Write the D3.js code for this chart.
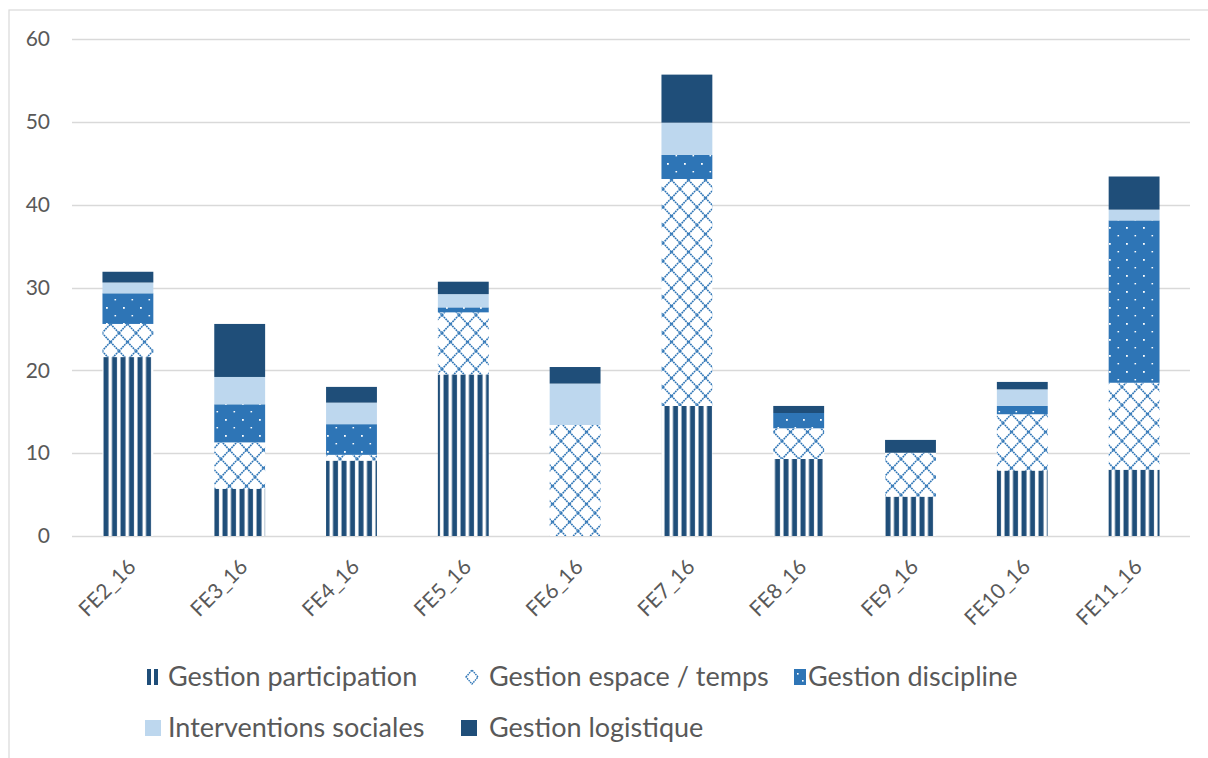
<!DOCTYPE html>
<html>
<head>
<meta charset="utf-8">
<script src="https://cdn.jsdelivr.net/npm/d3@7"></script>
<style>
  html, body { margin: 0; padding: 0; background: #fff; }
  svg { display: block; }
  text { font-family: Lato, "Open Sans", sans-serif; fill: #595959; }
</style>
</head>
<body>
<svg id="chart" width="1208" height="758"></svg>
<script>
const categories = ["FE2_16","FE3_16","FE4_16","FE5_16","FE6_16","FE7_16","FE8_16","FE9_16","FE10_16","FE11_16"];
const seriesNames = ["Gestion participation","Gestion espace / temps","Gestion discipline","Interventions sociales","Gestion logistique"];
const participation = [21.6, 5.7, 9.1, 19.5, 0, 15.7, 9.3, 4.75, 7.9, 8.0];
const espaceTemps   = [4.0, 5.6, 0.7, 7.5, 13.4, 27.4, 3.7, 5.3, 6.8, 10.5];
const discipline    = [3.7, 4.6, 3.7, 0.6, 0, 2.9, 1.85, 0, 1.0, 19.6];
const sociales      = [1.3, 3.3, 2.6, 1.6, 5.0, 3.9, 0, 0, 2.0, 1.3];
const logistique    = [1.3, 6.4, 1.9, 1.5, 2.0, 5.8, 0.85, 1.55, 0.9, 4.0];
const yTicks = [0, 10, 20, 30, 40, 50, 60];

const seriesValues = [participation, espaceTemps, discipline, sociales, logistique];
const keys = ["p","e","d","s","l"];
const table = categories.map((c, i) => {
  const o = { cat: c };
  keys.forEach((k, j) => o[k] = seriesValues[j][i]);
  return o;
});
const stacked = d3.stack().keys(keys)(table);

const svg = d3.select("#chart");
const W = 1208, H = 758;
const m = { left: 72, right: 18, top: 39, bottom: 222 };
const x = d3.scaleBand().domain(categories).range([m.left, W - m.right]).paddingInner(0.545).paddingOuter(0.2725);
const y = d3.scaleLinear().domain([0, 60]).range([H - m.bottom, m.top]);

// frame
svg.append("rect").attr("x", 9).attr("y", 10).attr("width", W + 10).attr("height", H + 10)
  .attr("fill", "none").attr("stroke", "#d9d9d9").attr("stroke-width", 1.2);

// patterns
const defs = svg.append("defs");
const dark = "#1f4e79", mid = "#2e75b6", light = "#bdd7ee";
const pP = defs.append("pattern").attr("id", "pat-p").attr("patternUnits", "userSpaceOnUse")
  .attr("width", 8.5).attr("height", 10);
pP.append("rect").attr("width", 8.5).attr("height", 10).attr("fill", "#fff");
pP.append("rect").attr("x", 1.5).attr("width", 5).attr("height", 10).attr("fill", dark);

const pE = defs.append("pattern").attr("id", "pat-e").attr("patternUnits", "userSpaceOnUse")
  .attr("width", 17).attr("height", 18);
pE.append("rect").attr("width", 17).attr("height", 18).attr("fill", "#fff");
pE.append("path").attr("d", "M0,9 L8.5,0 L17,9 L8.5,18 Z").attr("fill", "none")
  .attr("stroke", mid).attr("stroke-width", 1.6).attr("stroke-dasharray", "1.8,0.7");

const pD = defs.append("pattern").attr("id", "pat-d").attr("patternUnits", "userSpaceOnUse")
  .attr("width", 17).attr("height", 16);
pD.append("rect").attr("width", 17).attr("height", 16).attr("fill", mid);
pD.append("rect").attr("x", 4).attr("y", 3).attr("width", 1.8).attr("height", 1.8).attr("fill", "#fff");
pD.append("rect").attr("x", 12.5).attr("y", 11).attr("width", 1.6).attr("height", 1.4).attr("fill", "#fff");

const fills = { p: "url(#pat-p)", e: "url(#pat-e)", d: "url(#pat-d)", s: light, l: dark };

// gridlines
svg.append("g").selectAll("line").data(yTicks).join("line")
  .attr("x1", m.left).attr("x2", W - m.right)
  .attr("y1", d => Math.round(y(d)) + 0.5).attr("y2", d => Math.round(y(d)) + 0.5)
  .attr("stroke", "#d9d9d9").attr("stroke-width", 1.3);

// y axis labels
const yAxis = d3.axisLeft(y).tickValues(yTicks).tickSize(0).tickPadding(22);
const gy = svg.append("g").attr("transform", `translate(${m.left},0)`).call(yAxis);
gy.select(".domain").remove();
gy.selectAll("text").style("font-size", "21px").attr("fill", "#595959").style("font-family", "Lato, sans-serif");

// bars
svg.append("g").selectAll("g").data(stacked).join("g")
  .attr("fill", d => fills[d.key])
  .selectAll("rect").data(d => d).join("rect")
  .attr("x", d => x(d.data.cat))
  .attr("width", x.bandwidth())
  .attr("y", d => y(d[1]))
  .attr("height", d => Math.max(0, y(d[0]) - y(d[1])));

// x axis labels
const xAxis = d3.axisBottom(x).tickSize(0).tickPadding(0);
const gx = svg.append("g").attr("transform", `translate(0,${y(0)})`).call(xAxis);
gx.select(".domain").remove();
gx.selectAll("text")
  .style("font-size", "21px").style("font-family", "Lato, sans-serif").attr("fill", "#595959")
  .attr("text-anchor", "end")
  .attr("dy", "0.35em")
  .attr("transform", "translate(4,27) rotate(-45)")
  .attr("x", 0).attr("y", 0);

// legend
const legendItems = [
  { name: seriesNames[0], key: "p", sx: 147, tx: 168, ty: 677 },
  { name: seriesNames[1], key: "e", sx: 466, tx: 489, ty: 677 },
  { name: seriesNames[2], key: "d", sx: 794, tx: 808, ty: 677 },
  { name: seriesNames[3], key: "s", sx: 145, tx: 168, ty: 728 },
  { name: seriesNames[4], key: "l", sx: 461, tx: 489, ty: 728 }
];
const lg = svg.append("g");
legendItems.forEach(it => {
  const g = lg.append("g");
  if (it.key === "p") {
    g.append("rect").attr("x", 147).attr("y", it.ty - 8).attr("width", 4).attr("height", 16).attr("fill", dark);
    g.append("rect").attr("x", 154).attr("y", it.ty - 8).attr("width", 4).attr("height", 16).attr("fill", dark);
  } else if (it.key === "e") {
    g.append("path").attr("d", `M${it.sx},${it.ty} L${it.sx + 6},${it.ty - 7} L${it.sx + 12},${it.ty} L${it.sx + 6},${it.ty + 7} Z`)
      .attr("fill", "none").attr("stroke", mid).attr("stroke-width", 1.4).attr("stroke-dasharray", "1.6,0.8");
  } else if (it.key === "d") {
    g.append("rect").attr("x", it.sx).attr("y", it.ty - 8).attr("width", 12).attr("height", 16).attr("fill", mid);
    g.append("rect").attr("x", it.sx + 3).attr("y", it.ty - 4).attr("width", 1.6).attr("height", 1.6).attr("fill", "#fff");
    g.append("rect").attr("x", it.sx + 8).attr("y", it.ty + 3).attr("width", 1.6).attr("height", 1.6).attr("fill", "#fff");
  } else {
    g.append("rect").attr("x", it.sx).attr("y", it.ty - 8).attr("width", 16).attr("height", 16).attr("fill", fills[it.key]);
  }
  g.append("text").attr("x", it.tx).attr("y", it.ty).attr("dy", "0.35em")
    .style("font-size", "27px").text(it.name);
});
</script>
</body>
</html>
